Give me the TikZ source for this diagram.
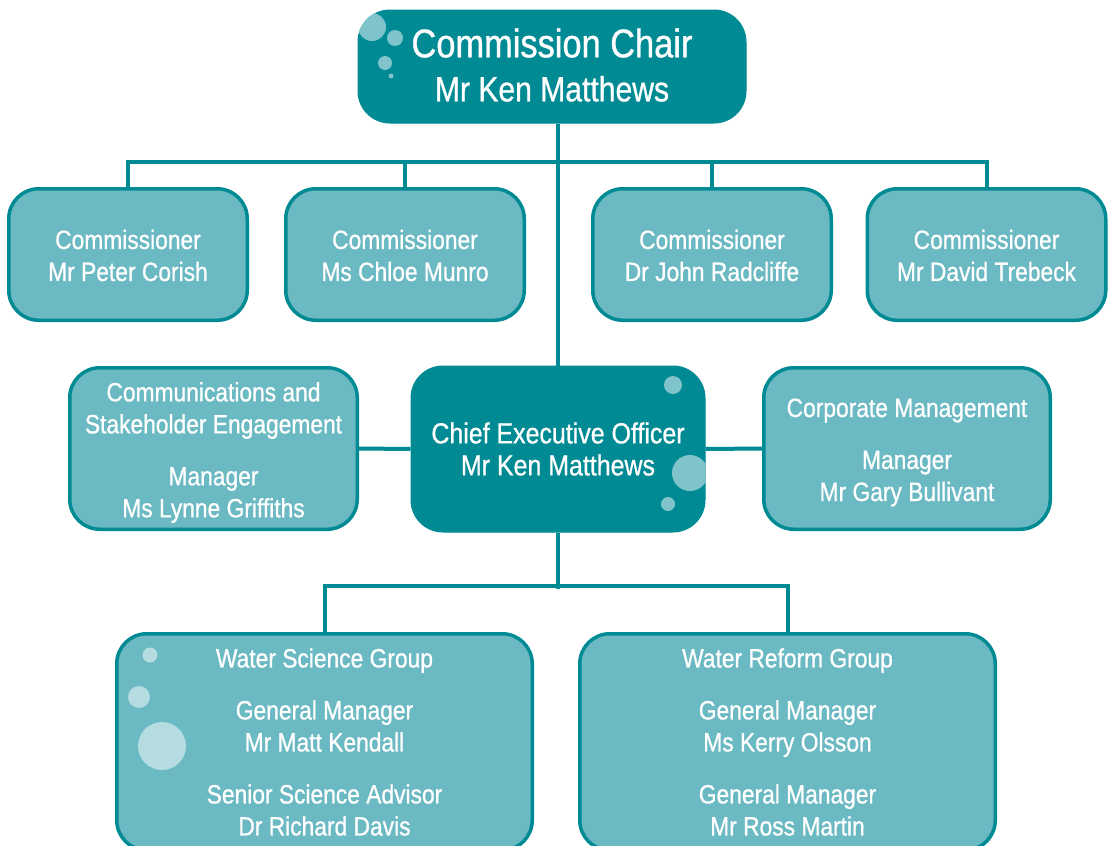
\documentclass[tikz,border=0pt]{standalone}
\usepackage{fontspec}
\setmainfont{Liberation Sans}[FakeStretch=0.86,FakeBold=0.8]
\definecolor{dark}{RGB}{0,138,148}
\definecolor{lightfill}{RGB}{107,185,194}
\definecolor{bubdark}{RGB}{127,196,203}
\definecolor{bublight}{RGB}{180,220,225}
\begin{document}
\begin{tikzpicture}[x=1pt,y=-1pt,
  darkbox/.style={draw=dark, fill=dark, line width=1pt, rounded corners=32pt, inner sep=0pt},
  lightbox/.style={draw=dark, line width=3.5pt, fill=lightfill, rounded corners=30pt, inner sep=0pt,
    minimum width=238.5pt, minimum height=131.5pt},
  txt/.style={text=white, align=center, inner sep=0pt, font=\fontsize{26.5}{32}\selectfont},
  link/.style={draw=dark, line width=4pt}]
\useasboundingbox (0,0) rectangle (1109,846);

% boxes
\node[darkbox, minimum width=388pt, minimum height=113pt] (chair) at (552,66.5) {};
\node[lightbox] (c1) at (128,254.5) {};
\node[lightbox] (c2) at (405,254.5) {};
\node[lightbox] (c3) at (712,254.5) {};
\node[lightbox] (c4) at (986.5,254.5) {};
\node[lightbox, minimum width=287.5pt, minimum height=161.5pt] (comms) at (213.5,448.5) {};
\node[darkbox, minimum width=294pt, minimum height=166pt] (ceo) at (558,449) {};
\node[lightbox, minimum width=286.5pt, minimum height=161.5pt] (corp) at (907,448.5) {};
\node[lightbox, minimum width=415.5pt, minimum height=216.5pt] (ws) at (324.5,742) {};
\node[lightbox, minimum width=415.5pt, minimum height=216.5pt] (wr) at (787.5,742) {};

% bubbles
\begin{scope}
  \clip[rounded corners=32pt] (chair.north west) rectangle (chair.south east);
  \fill[bubdark] (372,27) circle[radius=14pt];
  \fill[bubdark] (395,38) circle[radius=8pt];
  \fill[bubdark] (385,63) circle[radius=7pt];
  \fill[bubdark] (391,76) circle[radius=2.5pt];
\end{scope}
\begin{scope}
  \clip[rounded corners=32pt] (ceo.north west) rectangle (ceo.south east);
  \fill[bubdark] (673,385) circle[radius=9pt];
  \fill[bubdark] (690,473) circle[radius=18pt];
  \fill[bubdark] (668,504) circle[radius=7pt];
\end{scope}
\fill[bublight] (150,655) circle[radius=7.5pt];
\fill[bublight] (139,697) circle[radius=11pt];
\fill[bublight] (162,746) circle[radius=24pt];

% texts
\node[txt, font=\fontsize{40}{44}\selectfont] (chairT) at ([yshift=1.5pt]chair.center)
  {Commission Chair\\[0pt]{\fontsize{35}{44}\selectfont Mr Ken Matthews}};
\node[txt] (c1T) at ([yshift=-1pt]c1.center) {Commissioner\\Mr Peter Corish};
\node[txt] (c2T) at ([yshift=-1pt]c2.center) {Commissioner\\Ms Chloe Munro};
\node[txt] (c3T) at ([yshift=-1pt]c3.center) {Commissioner\\Dr John Radcliffe};
\node[txt] (c4T) at ([yshift=-1pt]c4.center) {Commissioner\\Mr David Trebeck};
\node[txt] (commsT) at ([yshift=-4pt]comms.center)
  {Communications and\\Stakeholder Engagement\\[20pt]Manager\\Ms Lynne Griffiths};
\node[txt, font=\fontsize{29}{32}\selectfont] (ceoT) at (ceo.center)
  {Chief Executive Officer\\Mr Ken Matthews};
\node[txt] (corpT) at ([yshift=-4pt]corp.center)
  {Corporate Management\\[20pt]Manager\\Mr Gary Bullivant};
\node[txt] (wsT) at (ws.center)
  {Water Science Group\\[20pt]General Manager\\Mr Matt Kendall\\[20pt]Senior Science Advisor\\Dr Richard Davis};
\node[txt] (wrT) at (wr.center)
  {Water Reform Group\\[20pt]General Manager\\Ms Kerry Olsson\\[20pt]General Manager\\Mr Ross Martin};

% connectors
\draw[link] (chair.south -| ceo.north) -- (ceo.north);
\draw[link] (c1.north) -- ++(0,-24.75) -| (c4.north);
\draw[link] (c2.north) -- ++(0,-24.75);
\draw[link] (c3.north) -- ++(0,-24.75);
\draw[link] (comms.east) -- (ceo.west);
\draw[link] (ceo.east) -- (corp.west);
\draw[link] (ceo.south) -- ++(0,56);
\draw[link] (ws.north) -- ++(0,-45.75) -| (wr.north);
\end{tikzpicture}
\end{document}
